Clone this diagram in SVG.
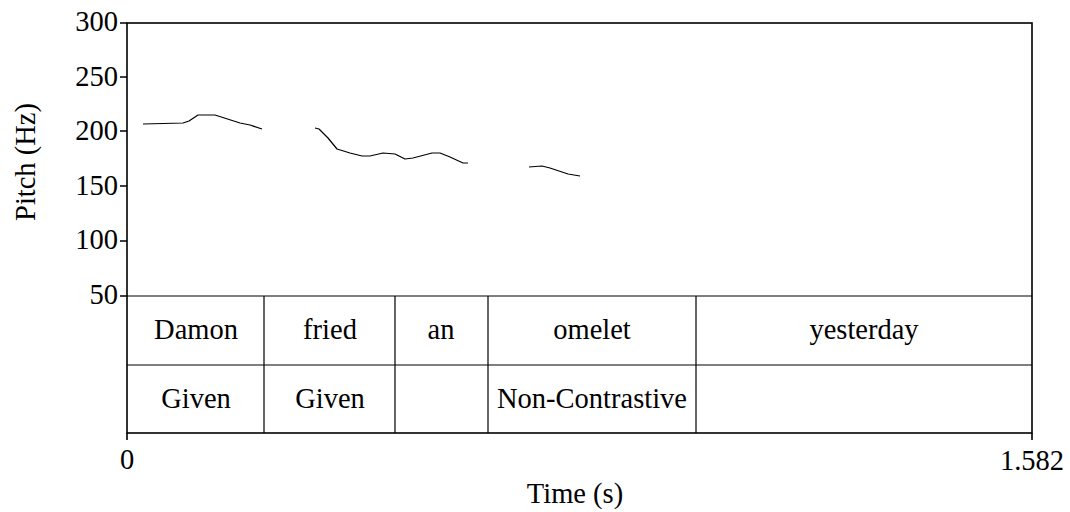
<svg xmlns="http://www.w3.org/2000/svg" width="1070" height="512" viewBox="0 0 1070 512">
<style>
text{font-family:"Liberation Serif","Times New Roman",serif;font-size:28.5px;fill:#000}
.ax{stroke:#000;stroke-width:1.6;fill:none}
.ln{stroke:#000;stroke-width:1.2;fill:none}
.p{stroke:#000;stroke-width:1.2;fill:none;stroke-linejoin:round}
.r{text-anchor:end}
.m{text-anchor:middle}
</style>
<rect width="1070" height="512" fill="#fff"/>
<g id="axes">
<rect class="ax" x="127" y="23" width="905" height="410"/>
<path class="ax" d="M120 23H127M120 77H127M120 131H127M120 186H127M120 241H127M120 296H127M127 433V440M1032 433V440"/>
<text class="r" x="118" y="31">300</text>
<text class="r" x="118" y="85.5">250</text>
<text class="r" x="118" y="140">200</text>
<text class="r" x="118" y="194.5">150</text>
<text class="r" x="118" y="249">100</text>
<text class="r" x="118" y="304">50</text>
<text class="m" x="127" y="469">0</text>
<text class="m" x="1032" y="470">1.582</text>
<text class="m" x="575" y="503">Time (s)</text>
<text class="m" transform="translate(35 162) rotate(-90)">Pitch (Hz)</text>
</g>
<g id="pitch">
<polyline class="p" points="143,124 183,123 189,121 198,115 215,115 240,123 250,125 262,129"/>
<polyline class="p" points="315,128 319,129 328,138 337,149 350,153 362,156 370,156 383,153 395,154 405,159 413,158 432,153 440,153 450,157 463,163 468,163"/>
<polyline class="p" points="529,167 542,166 550,168 568,174 580,176"/>
</g>
<g id="tiers">
<path class="ln" d="M127 296H1032M127 365H1032M264 296V433M395 296V433M488 296V433M696 296V433"/>
</g>
<g id="words">
<text class="m" x="196" y="339">Damon</text>
<text class="m" x="330" y="339">fried</text>
<text class="m" x="441" y="339">an</text>
<text class="m" x="592" y="339">omelet</text>
<text class="m" x="864" y="339">yesterday</text>
</g>
<g id="focus">
<text class="m" x="196" y="408">Given</text>
<text class="m" x="330" y="408">Given</text>
<text class="m" x="592" y="408">Non-Contrastive</text>
</g>
</svg>
